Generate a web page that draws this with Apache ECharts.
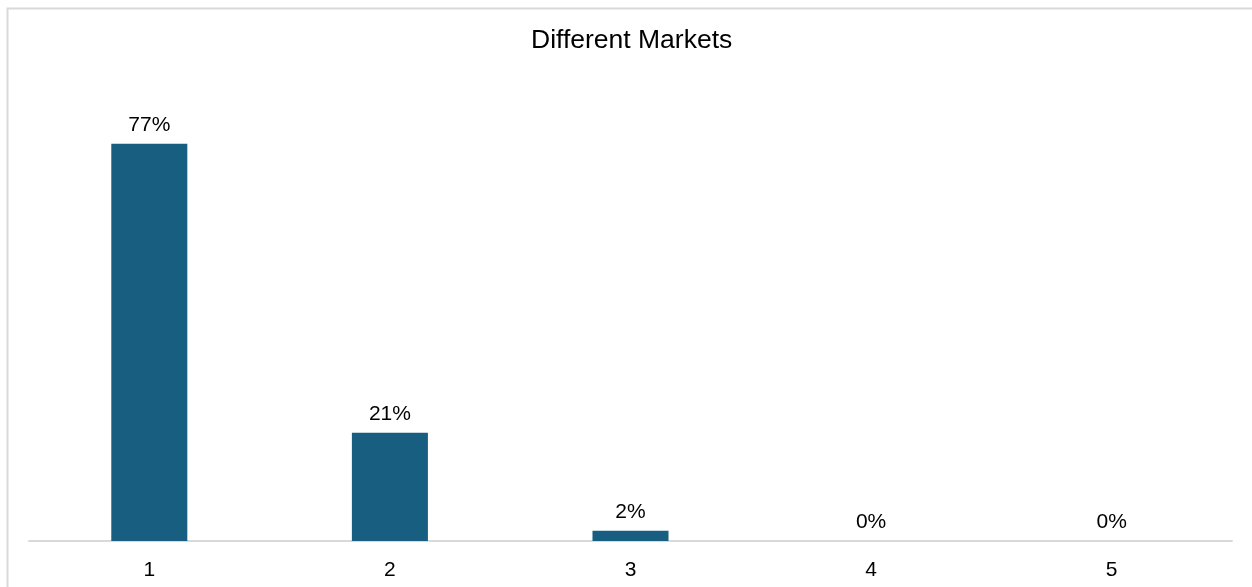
<!DOCTYPE html>
<html><head><meta charset="utf-8">
<script src="https://cdn.jsdelivr.net/npm/echarts@6/dist/echarts.min.js"></script>
<style>html,body{margin:0;padding:0;background:#fff}#c{width:1252px;height:587px}</style>
</head><body><div id="c"></div>
<script>
const categories = ['1','2','3','4','5'];
const values = [77, 21, 2, 0, 0];
const titleText = 'Different Markets';

const chart = echarts.init(document.getElementById('c'));
chart.setOption({
  animation: false,
  backgroundColor: '#fff',
  title: {
    text: titleText, left: 526, top: 22,
    textStyle: {fontFamily: 'Liberation Sans, Arial', fontSize: 26.5, fontWeight: 'normal', color: '#000'}
  },
  graphic: [{
    type: 'rect', shape: {x: 7.5, y: 8.5, width: 1300, height: 700},
    style: {fill: 'none', stroke: '#d9d9d9', lineWidth: 2}, silent: true
  }],
  grid: {left: 29, right: 20, top: 25, bottom: 46, containLabel: false},
  xAxis: {
    type: 'category', data: categories,
    axisLine: {lineStyle: {color: '#d9d9d9', width: 2}},
    axisTick: {show: false},
    axisLabel: {fontFamily: 'Liberation Sans, Arial', fontSize: 21, color: '#000', margin: 19}
  },
  yAxis: {type: 'value', min: 0, max: 100, show: false, splitLine: {show: false}},
  series: [{
    type: 'bar', data: values, barWidth: '31.6%',
    itemStyle: {color: '#175E80'},
    label: {show: true, position: 'top', distance: 8, formatter: '{c}%',
      fontFamily: 'Liberation Sans, Arial', fontSize: 21, color: '#000'}
  }]
});
</script></body></html>
